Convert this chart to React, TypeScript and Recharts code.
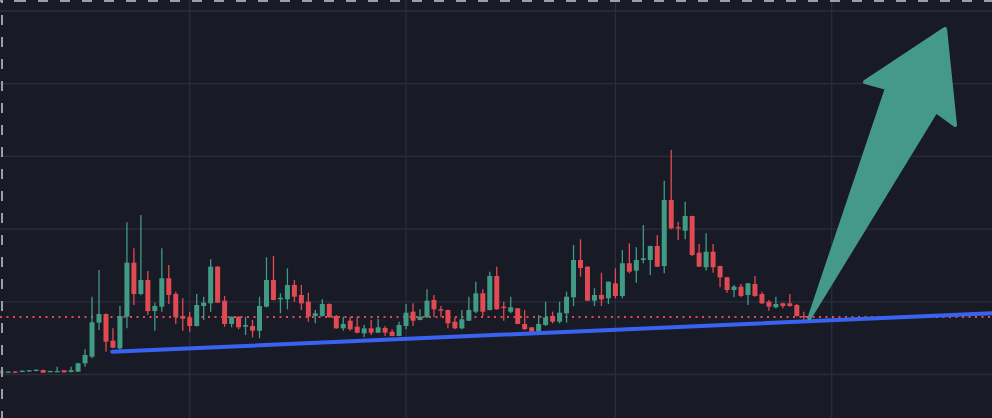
import {
  ComposedChart,
  Bar,
  XAxis,
  YAxis,
  ReferenceLine,
  ReferenceArea,
} from 'recharts';

// daily candles
const opens = [
  10.37, 10.3, 10.41, 10.34, 10.44, 10.48, 10.62, 10.34, 10.34, 10.58,
  10.34, 10.39, 11.54, 12.45, 17.13, 18.32, 14.65, 13.6, 17.95, 25.38,
  21.07, 23.0, 18.73, 19.33, 23.23, 21.07, 18.05, 17.87, 16.67, 19.42,
  19.79, 24.83, 20.15, 16.95, 17.95, 16.58, 16.67, 16.02, 19.33, 23.0,
  20.34, 20.34, 22.31, 20.94, 20.01, 18.05, 18.05, 19.7, 18.05, 16.35,
  17.4, 16.58, 15.67, 16.35, 15.75, 16.4, 15.89, 15.3, 16.67, 18.64,
  17.5, 17.87, 20.25, 18.97, 18.87, 17.26, 16.35, 17.4, 18.64, 21.17,
  18.87, 23.55, 19.33, 18.64, 19.11, 16.95, 16.49, 15.89, 16.81, 18.05,
  17.26, 18.42, 20.62, 25.75, 24.83, 20.15, 20.94, 20.48, 22.54, 20.8,
  25.3, 24.28, 25.75, 25.75, 27.68, 24.92, 34.0, 30.25, 29.78, 31.8,
  26.75, 24.75, 26.89, 24.92, 23.37, 21.62, 22.08, 20.94, 22.45, 21.07,
  20.01, 19.24, 19.79, 19.79, 19.56, 18.05,
];
const highs = [
  10.62, 10.44, 10.44, 10.55, 10.62, 10.7, 10.65, 10.52, 11.07, 10.62,
  11.07, 11.6, 13.47, 20.7, 24.37, 18.4, 16.35, 19.42, 30.94, 27.36,
  31.94, 24.24, 19.88, 27.36, 25.06, 21.39, 20.48, 18.64, 21.07, 20.7,
  25.85, 24.92, 20.8, 18.0, 18.05, 17.95, 17.5, 20.7, 26.12, 26.3,
  21.17, 24.61, 23.0, 22.31, 21.25, 18.87, 20.34, 19.75, 18.18, 17.95,
  17.95, 17.95, 16.81, 17.5, 17.63, 16.67, 16.22, 17.26, 19.7, 19.79,
  18.97, 21.72, 20.94, 19.42, 18.9, 17.87, 18.87, 20.7, 22.76, 21.72,
  24.14, 24.83, 20.01, 20.7, 19.15, 18.87, 16.54, 18.18, 20.01, 18.64,
  20.01, 21.39, 27.81, 28.6, 24.88, 21.86, 24.0, 22.8, 24.61, 27.12,
  28.05, 27.5, 30.56, 27.7, 29.19, 36.66, 40.88, 31.02, 33.77, 31.85,
  27.95, 29.42, 27.95, 24.95, 23.4, 22.31, 22.45, 22.6, 23.55, 21.39,
  20.25, 20.7, 19.88, 21.07, 19.7, 18.64,
];
const lows = [
  10.14, 10.28, 10.22, 10.31, 10.4, 10.45, 10.22, 10.31, 10.31, 10.27,
  10.31, 10.35, 11.07, 12.23, 16.12, 13.14, 13.6, 13.27, 16.35, 19.56,
  20.9, 18.18, 16.02, 18.64, 19.7, 16.95, 16.02, 15.89, 16.6, 17.5,
  18.64, 19.83, 16.58, 16.49, 16.22, 15.43, 15.12, 14.98, 19.24, 20.2,
  18.42, 18.97, 20.01, 18.87, 17.26, 17.04, 17.95, 17.82, 16.3, 16.02,
  16.02, 15.67, 15.12, 15.43, 15.7, 15.3, 15.25, 15.25, 16.22, 16.67,
  17.45, 17.73, 17.87, 17.87, 16.35, 16.22, 16.22, 17.35, 18.42, 18.05,
  18.82, 18.92, 17.4, 18.42, 16.9, 16.17, 15.84, 15.75, 16.67, 17.04,
  17.04, 17.13, 19.42, 23.45, 20.1, 19.42, 19.42, 19.7, 20.48, 20.48,
  23.92, 22.63, 25.3, 23.69, 24.8, 23.92, 29.97, 28.5, 28.6, 26.3,
  24.8, 24.28, 24.0, 22.0, 21.25, 20.62, 20.62, 19.56, 20.7, 19.7,
  18.78, 19.11, 19.11, 19.33, 17.95, 17.5,
];
const closes = [
  10.41, 10.41, 10.25, 10.52, 10.58, 10.66, 10.25, 10.48, 10.48, 10.3,
  10.58, 11.54, 12.68, 17.18, 18.32, 14.51, 13.69, 18.05, 25.38, 21.07,
  23.0, 18.73, 19.42, 23.23, 20.94, 17.87, 17.68, 16.67, 19.56, 19.88,
  24.83, 19.88, 16.95, 17.95, 16.49, 16.81, 16.02, 19.42, 23.0, 20.25,
  20.56, 22.31, 20.7, 19.79, 17.95, 18.42, 19.7, 17.87, 16.35, 16.95,
  16.22, 15.75, 16.35, 15.75, 16.49, 15.75, 15.3, 16.81, 18.5, 17.4,
  17.95, 20.15, 18.97, 18.78, 17.04, 16.35, 17.59, 18.87, 21.17, 18.64,
  23.55, 18.97, 19.15, 19.24, 16.95, 16.22, 15.89, 16.95, 17.87, 17.26,
  18.5, 20.7, 25.75, 24.65, 20.15, 20.94, 20.34, 22.76, 20.8, 25.3,
  24.14, 25.75, 25.98, 27.68, 24.83, 34.0, 30.11, 30.11, 31.8, 26.44,
  24.83, 26.89, 24.75, 23.37, 21.62, 22.08, 20.8, 22.54, 20.8, 19.79,
  19.33, 19.7, 19.42, 19.42, 18.05, 17.87,
];

// month boundaries (candle index) and price grid
const monthTicks = [27, 58, 88, 119];
const priceTicks = [10, 20, 30, 40, 50, 60];

// drawings
const lastPrice = 17.9;
const trendStart = { x: 15.9, y: 13.14 };
const trendEnd = { x: 141.97, y: 18.42 };
const arrowX = [115.79, 133.95, 136.67, 135.24, 123.78, 126.93];
const arrowY = [17.73, 46.24, 44.32, 57.52, 50.23, 49.41];

const UP = '#419b84';
const DOWN = '#e04a52';
const ARROW = '#45998a';
const BG = '#181b26';
const GRID = '#2a2e3b';
const BORDER = '#9b9ea7';

const data = opens.map((open, i) => ({
  i,
  open,
  high: highs[i],
  low: lows[i],
  close: closes[i],
}));

function Candle(props: any) {
  const { x, y, width, height, payload } = props;
  if (x == null || !payload) return null;
  const top = Math.min(y, y + height);
  const bottom = Math.max(y, y + height);
  const { open, close, high, low } = payload;
  const k = (bottom - top) / (high - low || 1);
  const toY = (v: number) => bottom - (v - low) * k;
  const color = close >= open ? UP : DOWN;
  const bodyTop = toY(Math.max(open, close));
  const bodyH = Math.max(1.2, toY(Math.min(open, close)) - bodyTop);
  const cx = x + width / 2;
  return (
    <g>
      <line x1={cx} x2={cx} y1={top} y2={bottom} stroke={color} strokeWidth={1.3} />
      <rect x={x} y={bodyTop} width={width} height={bodyH} fill={color} />
    </g>
  );
}

function Arrow(props: any) {
  const { x, y, width, height } = props;
  const x0 = Math.min(...arrowX);
  const x1 = Math.max(...arrowX);
  const yTop = Math.max(...arrowY);
  const yBot = Math.min(...arrowY);
  const pts = arrowX
    .map((a, i) => {
      const px = x + ((a - x0) / (x1 - x0)) * width;
      const py = y + ((yTop - arrowY[i]) / (yTop - yBot)) * height;
      return `${px},${py}`;
    })
    .join(' ');
  return (
    <polygon points={pts} fill={ARROW} stroke={ARROW} strokeWidth={4} strokeLinejoin="round" />
  );
}

export default function App() {
  return (
    <div
      style={{
        position: 'absolute',
        left: 0,
        top: 0,
        width: 992,
        height: 418,
        background: BG,
        overflow: 'hidden',
      }}
    >
      <ComposedChart width={992} height={418} data={data} margin={{ top: 0, right: 0, bottom: 0, left: 0 }}>
        <XAxis
          type="number"
          dataKey="i"
          domain={[-0.186, 141.97]}
          allowDataOverflow
          hide
        />
        <YAxis
          type="number"
          domain={[4.017, 61.51]}
          allowDataOverflow
          hide
        />
        {priceTicks.map((v) => (
          <ReferenceLine key={'h' + v} y={v} stroke={GRID} strokeWidth={1.3} zIndex={-100} />
        ))}
        {monthTicks.map((v) => (
          <ReferenceLine key={'v' + v} x={v} stroke={GRID} strokeWidth={1.3} zIndex={-100} />
        ))}
        <ReferenceLine y={lastPrice} stroke={DOWN} strokeWidth={2} strokeDasharray="2 4.5" zIndex={-50} />
        <Bar
          dataKey={(d: any) => [d.low, d.high]}
          barSize={5}
          shape={Candle}
          isAnimationActive={false}
        />
        <ReferenceLine
          segment={[trendStart, trendEnd]}
          stroke="#3a62f0"
          strokeWidth={4}
          strokeLinecap="round"
          zIndex={900}
        />
        <ReferenceArea
          x1={Math.min(...arrowX)}
          x2={Math.max(...arrowX)}
          y1={Math.min(...arrowY)}
          y2={Math.max(...arrowY)}
          shape={Arrow}
          zIndex={1000}
        />
      </ComposedChart>
      <div
        style={{
          position: 'absolute',
          left: 0,
          top: 0,
          width: 992,
          height: 2,
          background: `repeating-linear-gradient(to right, ${BORDER} 0 10px, transparent 10px 22px)`,
          backgroundPosition: '16px 0',
        }}
      />
      <div
        style={{
          position: 'absolute',
          left: 1,
          top: 0,
          width: 2,
          height: 418,
          background: `repeating-linear-gradient(to bottom, ${BORDER} 0 10px, transparent 10px 22px)`,
          backgroundPosition: '0 15px',
        }}
      />
    </div>
  );
}
